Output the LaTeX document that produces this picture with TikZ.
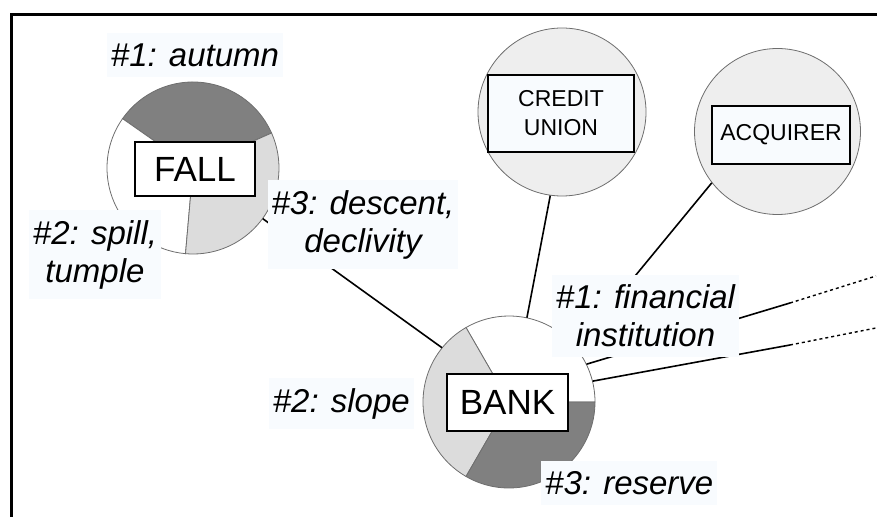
\documentclass[tikz,border=0pt]{standalone}
\usepackage{fontspec}
\setmainfont{Liberation Sans}
\definecolor{sensedark}{HTML}{808080}
\definecolor{senselight}{HTML}{DCDCDC}
\definecolor{wordfill}{HTML}{EEEEEE}
\definecolor{edgegray}{HTML}{6E6E6E}
\definecolor{labelbg}{HTML}{F8FBFE}
\begin{document}
\begin{tikzpicture}[x=1pt,y=1pt,
  sector/.style={draw=edgegray, line width=0.8pt},
  wordcircle/.style={circle, minimum size=172pt, inner sep=0pt, draw=none},
  smallcircle/.style={circle, inner sep=0pt, draw=edgegray, line width=0.8pt, fill=wordfill},
  wordbox/.style={draw=black, line width=1.8pt, fill=white, inner sep=0pt,
    font=\fontsize{35}{38}\selectfont},
  smallbox/.style={draw=black, line width=1.8pt, fill=labelbg, inner sep=0pt,
    align=center, font=\fontsize{23}{29}\selectfont},
  sense/.style={fill=labelbg, align=center, inner xsep=4pt, inner ysep=10pt,
    font=\itshape\fontsize{33}{38}\selectfont},
  link/.style={line width=1.6pt, black},
  farlink/.style={line width=1.4pt, black, dash pattern=on 3pt off 3pt},
]
\useasboundingbox (0,0) rectangle (877,517);

% frame
\draw[line width=3pt] (877,502) -- (11,502) -- (11,0);

% FALL pie: autumn / spill / descent
\coordinate (fc) at (193,349);
\filldraw[sector, fill=sensedark] (fc) -- ++(24:86) arc[start angle=24, end angle=145, radius=86] -- cycle;
\filldraw[sector, fill=white] (fc) -- ++(145:86) arc[start angle=145, end angle=265, radius=86] -- cycle;
\filldraw[sector, fill=senselight] (fc) -- ++(265:86) arc[start angle=265, end angle=384, radius=86] -- cycle;
\node[wordcircle] (fall) at (fc) {};

% BANK pie: institution / slope / reserve
\coordinate (bc) at (509,115);
\filldraw[sector, fill=white] (bc) -- ++(0:86) arc[start angle=0, end angle=120, radius=86] -- cycle;
\filldraw[sector, fill=senselight] (bc) -- ++(120:86) arc[start angle=120, end angle=240, radius=86] -- cycle;
\filldraw[sector, fill=sensedark] (bc) -- ++(240:86) arc[start angle=240, end angle=360, radius=86] -- cycle;
\node[wordcircle] (bank) at (bc) {};

% neighbouring words
\node[smallcircle, minimum size=168pt] (cu) at (562,405) {};
\node[smallcircle, minimum size=166pt] (acq) at (777.5,385.5) {};

% connectors
\draw[link] (fall.-36) -- (bank.141);
\draw[link] (bank.78) -- (cu.262);
\draw[link] (bank.39) -- (acq.218);
\coordinate (far1) at (790,214);
\coordinate (far1end) at (876,241);
\coordinate (far2) at (790,172);
\coordinate (far2end) at (876,189);
\draw[link] (bank.26) -- (far1);
\draw[farlink] (far1) -- (far1end);
\draw[link] (bank.14) -- (far2);
\draw[farlink] (far2) -- (far2end);

% sense labels
\node[sense] (autumn) at (195,462) {\#1: autumn};
\node[sense] (spill) at (95,262.5) {\#2: spill,\\tumple};
\node[sense] (descent) at (363,292.5) {\#3: descent,\\declivity};
\node[sense] (financial) at (645.5,201) {\#1: financial\\institution};
\node[sense, anchor=east] (slope) at (414,113.5) {\#2: slope};
\node[sense, anchor=west] (reserve) at (541,34) {\#3: reserve};

% word boxes
\node[wordbox, minimum width=120pt, minimum height=54pt] (fallbox) at (195,348) {FALL};
\node[wordbox, minimum width=121pt, minimum height=57pt] (bankbox) at (507.5,114.5) {BANK};
\node[smallbox, minimum width=146pt, minimum height=77pt] (cubox) at (561,403.5) {CREDIT\\UNION};
\node[smallbox, minimum width=138pt, minimum height=58pt] (acqbox) at (781,382) {ACQUIRER};
\end{tikzpicture}
\end{document}
